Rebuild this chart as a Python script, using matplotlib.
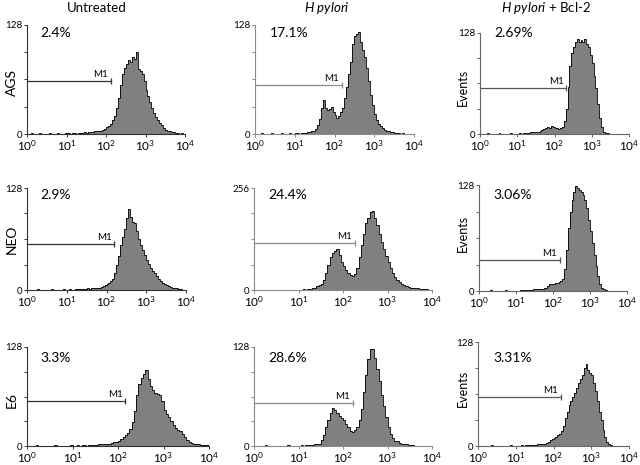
import numpy as np
import matplotlib
matplotlib.use("Agg")
import matplotlib.pyplot as plt

plt.rcParams['font.family'] = ['Lato', 'DejaVu Sans']
plt.rcParams['mathtext.fontset'] = 'custom'
plt.rcParams['mathtext.rm'] = 'Lato'
plt.rcParams['mathtext.it'] = 'Lato:italic'

# column titles / row labels
col_titles = ["Untreated", r"$\mathit{H\ pylori}$", r"$\mathit{H\ pylori}$ + Bcl-2"]
row_labels = ["AGS", "NEO", "E6"]

# percentage of events inside the M1 gate
pct_labels = [["2.4%", "17.1%", "2.69%"],
              ["2.9%", "24.4%", "3.06%"],
              ["3.3%", "28.6%", "3.31%"]]

# y-axis maximum (events) per panel
y_max = [[128, 128, 128],
         [128, 256, 128],
         [128, 128, 128]]

# M1 gate: right end (fluorescence) and height (events)
gate_end = [[135, 153, 209],
            [158, 182, 155],
            [145, 166, 155]]
gate_y = [[62, 57, 58],
          [58, 118, 37],
          [58, 55, 60]]

# histogram counts, 20 channels per decade from 10^0 to 10^4
ags_untreated = [0, 0, 1, 0, 0, 0, 1, 0, 0, 0, 0, 1, 0, 0, 0, 1, 0, 0, 0, 1,
                 0, 1, 0, 1, 1, 0, 1, 1, 1, 2, 1, 2, 2, 2, 3, 3, 4, 4, 5, 6,
                 8, 9, 12, 16, 21, 30, 42, 57, 70, 77, 82, 87, 85, 90, 88, 96, 76, 74, 70, 62,
                 52, 45, 37, 30, 25, 20, 16, 13, 10, 7, 5, 4, 3, 2, 2, 1, 1, 0, 1, 0]
ags_hp = [0, 0, 0, 1, 0, 0, 0, 0, 1, 0, 0, 0, 0, 1, 0, 0, 0, 1, 0, 0,
          1, 1, 0, 1, 1, 1, 2, 2, 3, 4, 6, 10, 18, 30, 40, 31, 28, 29, 32, 26,
          22, 19, 21, 26, 31, 42, 55, 70, 84, 106, 115, 118, 120, 108, 99, 91, 78, 62, 46, 34,
          24, 16, 12, 9, 7, 5, 4, 3, 2, 2, 1, 1, 1, 0, 1, 0, 0, 0, 0, 0]
ags_bcl2 = [0, 0, 0, 0, 1, 0, 0, 0, 0, 0, 1, 0, 0, 0, 0, 0, 1, 0, 0, 0,
            0, 1, 0, 1, 1, 1, 1, 2, 2, 2, 3, 3, 4, 5, 6, 7, 9, 8, 10, 9,
            7, 8, 6, 7, 9, 16, 32, 60, 86, 103, 110, 116, 120, 117, 119, 116, 121, 114, 110, 100,
            90, 74, 58, 38, 20, 9, 3, 1, 1, 0, 0, 0, 0, 0, 0, 0, 0, 0, 0, 0]
neo_untreated = [0, 0, 0, 0, 0, 1, 0, 0, 0, 0, 0, 0, 1, 0, 0, 0, 0, 0, 1, 0,
                 0, 1, 0, 0, 1, 1, 1, 1, 1, 1, 2, 1, 2, 2, 2, 3, 3, 4, 5, 6,
                 7, 9, 11, 14, 21, 32, 43, 56, 67, 77, 90, 102, 92, 85, 84, 74, 64, 57, 50, 44,
                 38, 33, 28, 24, 21, 17, 14, 11, 9, 8, 6, 5, 4, 3, 2, 2, 1, 1, 0, 0]
neo_hp = [0, 0, 1, 0, 0, 0, 0, 1, 0, 0, 0, 0, 0, 1, 0, 0, 0, 1, 0, 0,
          1, 1, 2, 1, 2, 3, 4, 6, 9, 12, 16, 26, 42, 64, 82, 92, 98, 102, 88, 70,
          60, 50, 42, 37, 35, 41, 55, 83, 112, 140, 167, 180, 196, 198, 180, 162, 140, 120, 104, 85,
          70, 54, 42, 32, 26, 20, 16, 12, 10, 8, 6, 5, 4, 4, 3, 2, 3, 2, 1, 1]
neo_bcl2 = [0, 0, 0, 0, 0, 0, 1, 0, 0, 0, 0, 0, 0, 0, 1, 0, 0, 0, 0, 0,
            0, 0, 1, 0, 1, 1, 1, 1, 1, 2, 2, 2, 2, 3, 3, 4, 4, 6, 8, 9,
            8, 10, 10, 11, 12, 15, 26, 50, 76, 96, 110, 120, 127, 124, 122, 119, 116, 110, 100, 86,
            72, 58, 44, 30, 18, 9, 4, 2, 1, 0, 0, 0, 0, 0, 0, 0, 0, 0, 0, 0]
e6_untreated = [0, 0, 0, 0, 1, 0, 0, 0, 0, 0, 0, 0, 1, 0, 0, 0, 0, 0, 0, 1,
                0, 0, 1, 0, 1, 1, 0, 1, 1, 1, 1, 2, 2, 2, 3, 3, 3, 4, 5, 5,
                7, 9, 12, 14, 17, 22, 31, 45, 66, 80, 88, 93, 98, 86, 78, 72, 69, 67, 66, 58,
                47, 41, 38, 32, 27, 23, 21, 19, 15, 11, 8, 5, 4, 3, 2, 2, 1, 1, 1, 1]
e6_hp = [0, 0, 0, 0, 0, 1, 0, 0, 0, 0, 0, 0, 0, 0, 0, 1, 0, 0, 0, 0,
         0, 1, 0, 1, 1, 1, 1, 2, 2, 3, 8, 14, 24, 34, 43, 49, 46, 43, 39, 36,
         33, 28, 24, 20, 18, 21, 25, 33, 48, 70, 92, 112, 125, 126, 114, 100, 84, 66, 52, 38,
         25, 15, 10, 7, 6, 4, 3, 3, 2, 1, 1, 1, 0, 0, 0, 0, 0, 0, 0, 0]
e6_bcl2 = [0, 0, 0, 0, 0, 0, 0, 1, 0, 0, 0, 0, 0, 0, 0, 0, 0, 1, 0, 0,
           0, 0, 0, 1, 0, 1, 1, 1, 1, 1, 1, 2, 2, 2, 2, 3, 4, 5, 7, 9,
           10, 11, 13, 15, 19, 25, 34, 42, 50, 55, 60, 65, 72, 78, 82, 88, 96, 101, 93, 90,
           87, 78, 68, 55, 42, 32, 20, 11, 5, 2, 1, 0, 0, 0, 0, 0, 0, 0, 0, 0]

counts = [[ags_untreated, ags_hp, ags_bcl2],
          [neo_untreated, neo_hp, neo_bcl2],
          [e6_untreated, e6_hp, e6_bcl2]]

# panel boxes in pixels: left, top, right, bottom
boxes = [[(27, 25, 185, 134), (255, 25, 414, 134), (480, 33, 629, 134)],
         [(27, 188, 186, 290), (254, 188, 432, 290), (479, 185, 627, 291)],
         [(27, 347, 209, 446), (254, 347, 432, 446), (478, 342, 629, 446)]]

# where the percentage text sits (pixels, left / centre)
pct_pos = [[(40, 33), (270, 33), (494, 33)],
           [(40, 195), (268, 195), (493, 195)],
           [(40, 358), (268, 358), (493, 358)]]

axis_col = ['#333333', '#8a8a8a', '#666666']
gate_col = ['#333333', '#8a8a8a', '#555555']

W, H = 640, 465
fig = plt.figure(figsize=(W / 100, H / 100), dpi=100)
edges = np.logspace(0, 4, 81)

for r in range(3):
    for c in range(3):
        l, t, rr, b = boxes[r][c]
        ax = fig.add_axes([l / W, 1 - b / H, (rr - l) / W, (b - t) / H])
        vals = np.array(counts[r][c], dtype=float)
        ax.stairs(vals, edges, fill=True, color='#808080', lw=0)
        ax.stairs(vals, edges, color='black', lw=0.6)

        ax.set_xscale('log')
        ax.set_xlim(1, 1e4)
        ym = y_max[r][c]
        ax.set_ylim(0, ym)
        ax.set_xticks([1, 10, 100, 1000, 10000])
        ax.xaxis.set_minor_locator(matplotlib.ticker.NullLocator())
        ax.set_yticks([0, ym / 4, ym / 2, 3 * ym / 4, ym])
        ax.set_yticklabels(['0', '', '', '', str(ym)])

        for s in ['top', 'right']:
            ax.spines[s].set_visible(False)
        for s in ['left', 'bottom']:
            ax.spines[s].set_color(axis_col[c])
            ax.spines[s].set_linewidth(0.8)
        ax.tick_params(axis='x', direction='out', length=2, width=0.7, pad=1,
                       labelsize=8.5, colors=axis_col[c], labelcolor='black')
        ax.tick_params(axis='y', direction='out', length=2.5, width=0.7, pad=1,
                       labelsize=7, colors=axis_col[c], labelcolor='black')

        # M1 gate
        gx, gy = gate_end[r][c], gate_y[r][c]
        ax.plot([1, gx], [gy, gy], color=gate_col[c], lw=0.9, clip_on=False)
        ax.plot([gx], [gy], marker='|', ms=4, mew=0.9, color=gate_col[c])
        ax.annotate('M1', (gx, gy), xytext=(-2, 1.5), textcoords='offset points',
                    ha='right', va='bottom', fontsize=7)

        px, py = pct_pos[r][c]
        fig.text(px / W, 1 - py / H, pct_labels[r][c], fontsize=10,
                 ha='left', va='center')

# row labels and y-axis titles
for y, lab in zip([82, 239, 400], row_labels):
    fig.text(12 / W, 1 - y / H, lab, rotation=90, fontsize=10,
             ha='center', va='center')
for y in [87, 233, 388]:
    fig.text(463 / W, 1 - y / H, 'Events', rotation=90, fontsize=9,
             ha='center', va='center')

# column titles
for x, title in zip([97, 327, 546], col_titles):
    fig.text(x / W, 1 - 8 / H, title, fontsize=9.5, ha='center', va='center')

fig.savefig('out.png', dpi=100)
